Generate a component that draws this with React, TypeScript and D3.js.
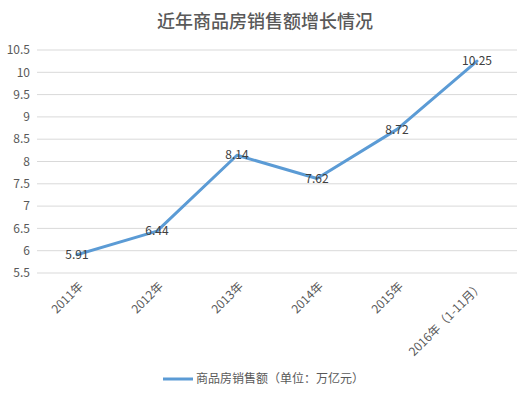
import React from "react";
import * as d3 from "d3";

const categories = ["2011年", "2012年", "2013年", "2014年", "2015年", "2016年（1-11月）"];
const sales = [5.91, 6.44, 8.14, 7.62, 8.72, 10.25];
const yTicks = [5.5, 6, 6.5, 7, 7.5, 8, 8.5, 9, 9.5, 10, 10.5];

const title = "近年商品房销售额增长情况";
const seriesName = "商品房销售额（单位：万亿元）";

const App = () => {
  const width = 531;
  const height = 395;
  const left = 37;
  const right = 517;
  const top = 50;
  const bottom = 273;
  const font = "'Noto Sans CJK SC', 'Open Sans', sans-serif";
  const textColor = "#595959";
  const lineColor = "#5b9bd5";

  const x = d3.scaleBand().domain(categories).range([left, right]);
  const y = d3.scaleLinear().domain([5.5, 10.5]).range([bottom, top]);

  const line = d3
    .line<number>()
    .x((d, i) => x(categories[i])! + x.bandwidth() / 2)
    .y(d => y(d));

  return (
    <svg width={width} height={height} style={{ position: "absolute", left: 0, top: 0 }}>
      <rect width={width} height={height} fill="#fff" />
      <text x={265} y={28} textAnchor="middle" fontSize={18} fontWeight={500} fill={textColor} fontFamily={font}>
        {title}
      </text>
      {yTicks.map(t => (
        <g key={t}>
          <line x1={left} x2={right} y1={y(t)} y2={y(t)} stroke="#d9d9d9" strokeWidth={1} />
          <text x={30} y={y(t)} dy="0.35em" textAnchor="end" fontSize={12} fill={textColor} fontFamily={font}>
            {t}
          </text>
        </g>
      ))}
      {categories.map(c => {
        const cx = x(c)! + x.bandwidth() / 2;
        return (
          <text
            key={c}
            transform={`translate(${cx + 4},${bottom + 11}) rotate(-45)`}
            textAnchor="end"
            dy="0.35em"
            fontSize={12}
            fill={textColor}
            fontFamily={font}
          >
            {c}
          </text>
        );
      })}
      <path d={line(sales) || ""} fill="none" stroke={lineColor} strokeWidth={3} strokeLinejoin="round" strokeLinecap="round" />
      {sales.map((v, i) => (
        <text
          key={i}
          x={x(categories[i])! + x.bandwidth() / 2}
          y={y(v)}
          dy="0.35em"
          textAnchor="middle"
          fontSize={12}
          fill="#404040"
          fontFamily={font}
        >
          {v}
        </text>
      ))}
      <line x1={163} x2={193} y1={379} y2={379} stroke={lineColor} strokeWidth={3} />
      <text x={196} y={379} dy="0.35em" fontSize={12} fill={textColor} fontFamily={font}>
        {seriesName}
      </text>
    </svg>
  );
};

export default App;
